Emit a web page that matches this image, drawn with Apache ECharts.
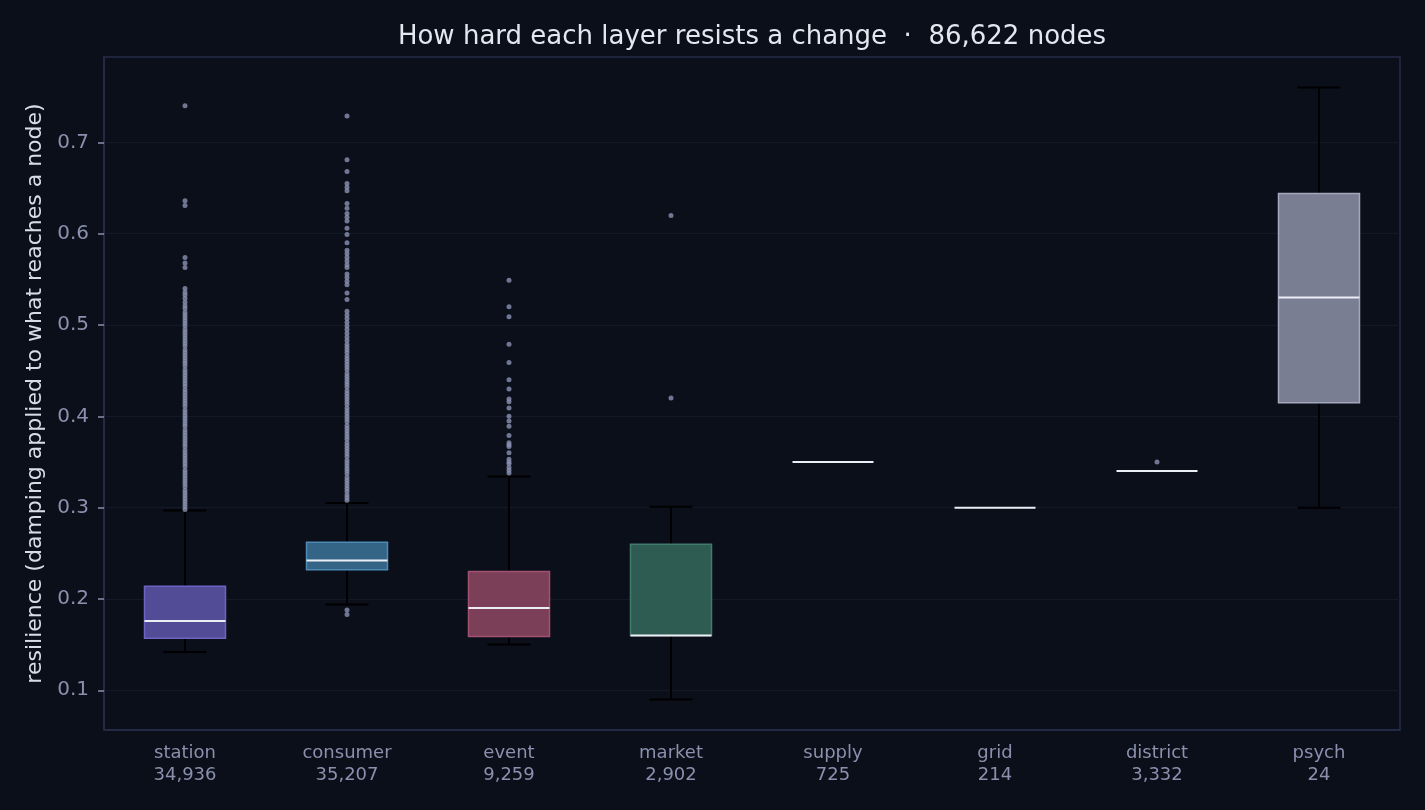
<!DOCTYPE html>
<html lang="en">
<head>
<meta charset="UTF-8">
<title>Layer resilience</title>
<script src="https://cdn.jsdelivr.net/npm/echarts@6/dist/echarts.min.js"></script>
<style>
  html, body { margin: 0; padding: 0; background: #0b0f1a; }
  #main { width: 1425px; height: 810px; }
</style>
</head>
<body>
<div id="main"></div>
<script>
// layers and their node counts
var layers = ['station', 'consumer', 'event', 'market', 'supply', 'grid', 'district', 'psych'];
var counts = ['34,936', '35,207', '9,259', '2,902', '725', '214', '3,332', '24'];

// box stats per layer: [lower whisker, q1, median, q3, upper whisker]
var boxStats = [
  [0.142, 0.157, 0.176, 0.214, 0.297],
  [0.194, 0.232, 0.242, 0.262, 0.305],
  [0.150, 0.159, 0.190, 0.230, 0.334],
  [0.090, 0.160, 0.160, 0.260, 0.301],
  [0.350, 0.350, 0.350, 0.350, 0.350],
  [0.300, 0.300, 0.300, 0.300, 0.300],
  [0.340, 0.340, 0.340, 0.340, 0.340],
  [0.300, 0.415, 0.530, 0.644, 0.760]
];

// outliers
var stationOut = [0.740, 0.636, 0.631, 0.574, 0.568, 0.563, 0.540, 0.536, 0.533, 0.529, 0.525,
  0.521, 0.518, 0.514, 0.511, 0.508, 0.505, 0.502, 0.499, 0.495, 0.492, 0.489, 0.486, 0.483,
  0.480, 0.477, 0.473, 0.470, 0.467, 0.464, 0.461, 0.458, 0.455, 0.451, 0.448, 0.445, 0.442,
  0.439, 0.436, 0.433, 0.429, 0.426, 0.423, 0.420, 0.417, 0.414, 0.411, 0.407, 0.404, 0.401,
  0.398, 0.395, 0.392, 0.389, 0.385, 0.382, 0.379, 0.376, 0.373, 0.370, 0.367, 0.363, 0.360,
  0.357, 0.354, 0.351, 0.348, 0.345, 0.341, 0.338, 0.335, 0.332, 0.329, 0.326, 0.323, 0.319,
  0.316, 0.313, 0.310, 0.307, 0.304, 0.301, 0.298];
var consumerOut = [0.729, 0.681, 0.668, 0.655, 0.651, 0.647, 0.633, 0.628, 0.622, 0.618, 0.614,
  0.606, 0.599, 0.590, 0.582, 0.578, 0.574, 0.570, 0.566, 0.563, 0.556, 0.552, 0.548, 0.544,
  0.535, 0.528, 0.515, 0.511, 0.507, 0.503, 0.499, 0.495, 0.491, 0.487, 0.483, 0.479, 0.476,
  0.473, 0.470, 0.466, 0.463, 0.460, 0.457, 0.454, 0.451, 0.447, 0.444, 0.441, 0.438, 0.435,
  0.432, 0.428, 0.425, 0.422, 0.419, 0.416, 0.413, 0.409, 0.406, 0.403, 0.400, 0.397, 0.394,
  0.390, 0.387, 0.384, 0.381, 0.378, 0.375, 0.371, 0.368, 0.365, 0.362, 0.359, 0.356, 0.352,
  0.349, 0.346, 0.343, 0.340, 0.337, 0.333, 0.330, 0.327, 0.324, 0.321, 0.318, 0.314, 0.311,
  0.308, 0.188, 0.183];
var eventOut = [0.549, 0.520, 0.509, 0.479, 0.459, 0.440, 0.430, 0.419, 0.416, 0.409, 0.400,
  0.395, 0.389, 0.379, 0.371, 0.369, 0.367, 0.360, 0.353, 0.350, 0.348, 0.344, 0.341, 0.338];
var marketOut = [0.620, 0.420];
var districtOut = [0.350];

// y ticks
var yTicks = [0.1, 0.2, 0.3, 0.4, 0.5, 0.6, 0.7];

// styles
var boxFill = ['#524c96', '#356586', '#7b3f58', '#2f5c52', '#40456a', '#40456a', '#40456a', '#797e92'];
var boxEdge = ['#6b64c4', '#4d8bb6', '#a2506f', '#417b6b', '#e8e8f0', '#e8e8f0', '#e8e8f0', '#a3a8bd'];

var outlierData = [];
[stationOut, consumerOut, eventOut, marketOut, [], [], districtOut, []].forEach(function (arr, i) {
  arr.forEach(function (v) { outlierData.push([i, v]); });
});

var boxData = boxStats.map(function (s, i) { return [i].concat(s); });

function renderBox(params, api) {
  var i = api.value(0);
  var band = api.size([1, 0])[0];
  var x = api.coord([i, 0])[0];
  var yLo = api.coord([i, api.value(1)])[1];
  var yQ1 = api.coord([i, api.value(2)])[1];
  var yMed = api.coord([i, api.value(3)])[1];
  var yQ3 = api.coord([i, api.value(4)])[1];
  var yHi = api.coord([i, api.value(5)])[1];
  var bw = band * 0.5, cw = band * 0.265;
  var black = { stroke: '#000000', lineWidth: 2 };
  var children = [];
  if (yLo !== yQ1 || yHi !== yQ3) {
    children.push(
      { type: 'line', shape: { x1: x, y1: yQ1, x2: x, y2: yLo }, style: black },
      { type: 'line', shape: { x1: x, y1: yQ3, x2: x, y2: yHi }, style: black },
      { type: 'line', shape: { x1: x - cw / 2, y1: yLo, x2: x + cw / 2, y2: yLo }, style: black },
      { type: 'line', shape: { x1: x - cw / 2, y1: yHi, x2: x + cw / 2, y2: yHi }, style: black }
    );
  }
  if (yQ1 !== yQ3) {
    children.push({
      type: 'rect',
      shape: { x: x - bw / 2, y: yQ3, width: bw, height: yQ1 - yQ3 },
      style: { fill: boxFill[i], stroke: boxEdge[i], lineWidth: 1.5 }
    });
  }
  children.push({
    type: 'line',
    shape: { x1: x - bw / 2, y1: yMed, x2: x + bw / 2, y2: yMed },
    style: { stroke: '#eceef6', lineWidth: 2 }
  });
  return { type: 'group', children: children };
}

var chart = echarts.init(document.getElementById('main'));
chart.setOption({
  backgroundColor: '#0b0f1a',
  animation: false,
  textStyle: { fontFamily: 'DejaVu Sans' },
  title: {
    text: 'How hard each layer resists a change  \u00b7  86,622 nodes',
    left: 752,
    top: 24,
    padding: 0,
    textAlign: 'center',
    textStyle: { color: '#e4e7f0', fontSize: 26, fontWeight: 'normal', fontFamily: 'DejaVu Sans' }
  },
  grid: {
    left: 104, right: 25, top: 57, bottom: 80,
    show: true, borderColor: '#262c48', borderWidth: 1.5, backgroundColor: '#0b0f1a'
  },
  xAxis: {
    type: 'category',
    data: layers,
    boundaryGap: true,
    axisLine: { show: true, lineStyle: { color: '#262c48', width: 1.5 } },
    axisTick: { alignWithLabel: true, length: 6, lineStyle: { color: '#8a90ad', width: 1.5 } },
    axisLabel: {
      color: '#8a90ad', fontSize: 18, lineHeight: 22, margin: 12, interval: 0,
      formatter: function (v, i) { return v + '\n' + counts[i]; }
    },
    splitLine: { show: false }
  },
  yAxis: {
    type: 'value',
    min: 0.0565,
    max: 0.7935,
    name: 'resilience (damping applied to what reaches a node)',
    nameLocation: 'middle',
    nameGap: 58,
    nameTextStyle: { color: '#d9dce6', fontSize: 22 },
    axisLine: { show: true, lineStyle: { color: '#262c48', width: 1.5 } },
    axisTick: { show: true, length: 6, customValues: yTicks, lineStyle: { color: '#8a90ad', width: 1.5 } },
    axisLabel: {
      color: '#8a90ad', fontSize: 20, margin: 15, customValues: yTicks,
      formatter: function (v) { return v.toFixed(1); }
    },
    splitLine: { show: true, lineStyle: { color: '#141928', width: 1 } }
  },
  series: [
    {
      type: 'custom',
      renderItem: renderBox,
      data: boxData,
      encode: { x: 0, y: [1, 2, 3, 4, 5] },
      z: 2
    },
    {
      type: 'scatter',
      data: outlierData,
      symbolSize: 5,
      itemStyle: { color: '#8a91b1' },
      z: 3
    }
  ]
});
</script>
</body>
</html>
